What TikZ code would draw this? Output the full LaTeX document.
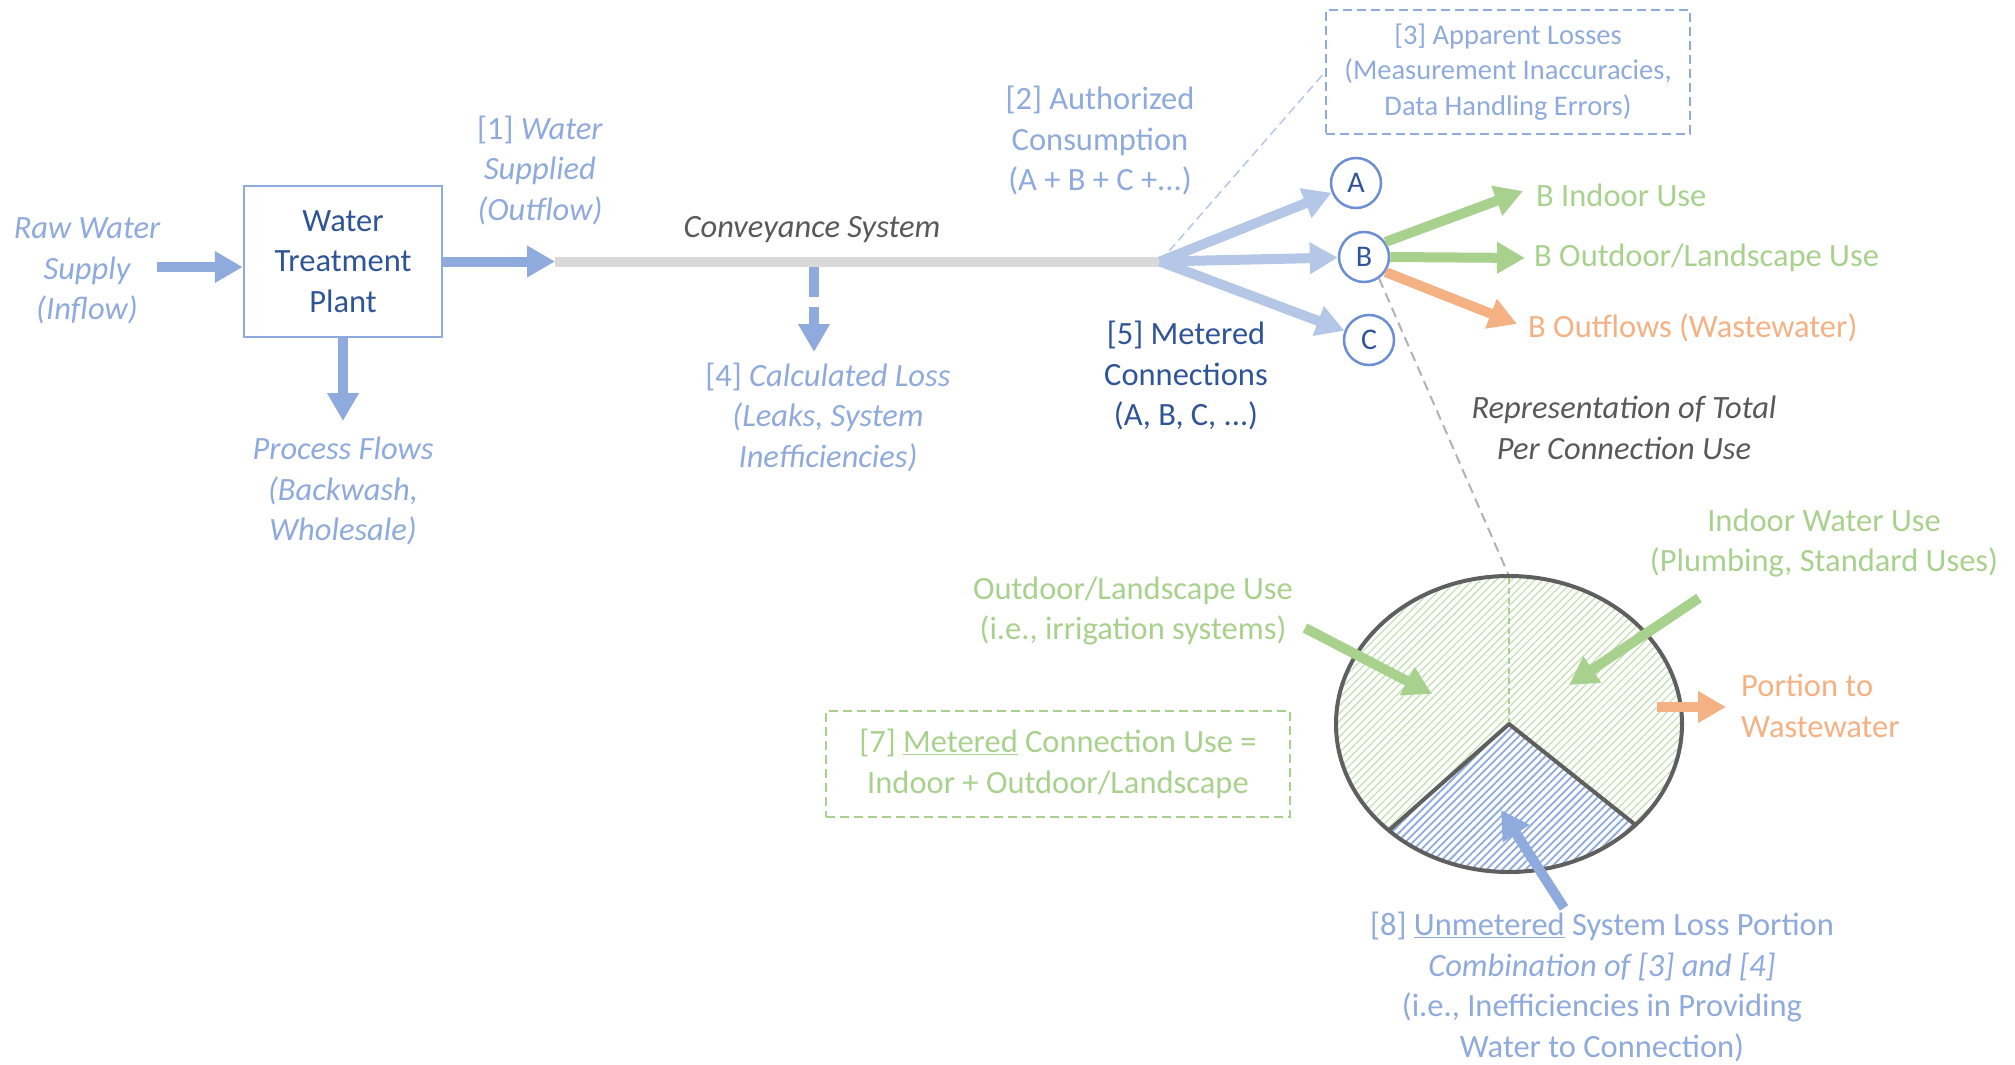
\documentclass[tikz,border=0pt]{standalone}
\usepackage{fontspec}
\setmainfont{Carlito}
\usetikzlibrary{arrows.meta,patterns.meta}
\definecolor{lblue}{HTML}{8FAADC}
\definecolor{dblue}{HTML}{2F5597}
\definecolor{fblue}{HTML}{B4C7E7}
\definecolor{cblue}{HTML}{6C8FD3}
\definecolor{lgreen}{HTML}{A9D18E}
\definecolor{hgreen}{HTML}{C5E0B4}
\definecolor{lorange}{HTML}{F4B183}
\definecolor{gtext}{HTML}{595959}
\definecolor{gline}{HTML}{D9D9D9}
\definecolor{dgray}{HTML}{5F5F5F}
\newcommand{\myul}[1]{\underline{#1}}
\tikzset{
  txt/.style={font=\fontsize{32.5}{40.5}\selectfont, align=center, inner sep=0pt},
  itxt/.style={font=\fontsize{32.5}{40.5}\selectfont\itshape, align=center, inner sep=0pt},
  smalltxt/.style={font=\fontsize{28.5}{35.5}\selectfont, align=center, inner sep=0pt},
  flow/.style={line width=10pt, -{Triangle[width=30pt,length=28pt]}},
  circ/.style={circle, draw=cblue, line width=2.5pt, minimum size=50pt, inner sep=0pt,
    text=dblue, font=\fontsize{30}{36}\selectfont},
  boxdash/.style={line width=2pt, dash pattern=on 9pt off 5pt},
  hatchgreen/.style={pattern={Lines[angle=45,distance=5.5pt,line width=1.3pt]}, pattern color=hgreen},
  hatchblue/.style={pattern={Lines[angle=45,distance=5.5pt,line width=1.8pt]}, pattern color=lblue},
}
\begin{document}
\begin{tikzpicture}[x=1pt,y=-1pt]
\useasboundingbox (0,0) rectangle (2015,1065);

% left part
\node[itxt, text=lblue] (raw) at (87,271) {Raw Water\\Supply\\(Inflow)};
\node[txt, text=dblue, draw=lblue, line width=2.5pt, minimum width=198pt, minimum height=151pt] (wtp) at (343,261.5) {Water\\Treatment\\Plant};
\coordinate (rawA) at (157,267);
\draw[flow, lblue] (rawA) -- (rawA -| wtp.west);

\coordinate (c0) at (555,261.5);
\coordinate (fork) at (1160,261.5);
\draw[gline, line width=10pt] (c0) -- (fork);
\draw[flow, lblue] (wtp.east) -- (c0);
\node[txt, text=lblue] (ws) at (540,170) {[1] \textit{Water}\\\textit{Supplied}\\\textit{(Outflow)}};
\node[itxt, text=gtext] (conv) at (812,230) {Conveyance System};

\coordinate (pend) at (343,421);
\draw[flow, lblue] (wtp.south) -- (pend);
\node[itxt, text=lblue] (proc) at (343,491) {Process Flows\\(Backwash,\\Wholesale)};

\coordinate (l0) at (814,266.5);
\coordinate (l1) at (814,352);
\draw[flow, lblue, dash pattern=on 30pt off 10pt] (l0) -- (l1);
\node[txt, text=lblue] (loss) at (828,417) {[4] \textit{Calculated Loss}\\\textit{(Leaks, System}\\\textit{Inefficiencies)}};

\node[txt, text=lblue] (auth) at (1100,141) {[2] Authorized\\Consumption\\(A + B + C +...)};
\node[txt, text=dblue] (met) at (1186,376) {[5] Metered\\Connections\\(A, B, C, ...)};

% apparent losses box
\node[smalltxt, text=lblue, draw=lblue, boxdash, minimum width=364pt, minimum height=124pt] (box3) at (1508,72) {[3] Apparent Losses\\(Measurement Inaccuracies,\\Data Handling Errors)};
\draw[fblue, line width=1.5pt, dash pattern=on 9pt off 5pt] (fork) -- (box3.west);

% connections
\node[circ] (A) at (1356,183) {A};
\node[circ] (B) at (1364,257) {B};
\node[circ] (C) at (1369,340) {C};
\draw[flow, fblue] (fork) -- (A);
\draw[flow, fblue] (fork) -- (B);
\draw[flow, fblue] (fork) -- (C);

\node[txt, text=lgreen, anchor=west] (bin) at (1536,195) {B Indoor Use};
\node[txt, text=lgreen, anchor=west] (bout) at (1534,258) {B Outdoor/Landscape Use};
\node[txt, text=lorange, anchor=west] (bww) at (1528,328) {B Outflows (Wastewater)};
\draw[flow, lgreen] (B.35) -- ([xshift=-13pt,yshift=4pt]bin.west);
\draw[flow, lgreen] (B.east) -- ([xshift=-9pt]bout.west);
\draw[flow, lorange] (B.-35) -- ([xshift=-11pt,yshift=4pt]bww.west);

\node[itxt, text=gtext] (rep) at (1624,428) {Representation of Total\\Per Connection Use};

% pie
\coordinate (pc) at (1509,724);
\coordinate (pietop) at (1509,576);
\draw[gray!60, line width=2pt, dash pattern=on 10pt off 6pt] (B.-55) -- (pietop);
\fill[hatchgreen] (pc) ellipse [x radius=173, y radius=148];
\fill[white] (pc) -- ++(43:173 and 148) arc[start angle=43, end angle=134, x radius=173, y radius=148] -- cycle;
\fill[hatchblue] (pc) -- ++(43:173 and 148) arc[start angle=43, end angle=134, x radius=173, y radius=148] -- cycle;
\draw[lgreen, line width=2pt, dash pattern=on 6pt off 4pt] (pc) -- (pietop);
\draw[dgray, line width=4pt] (pc) ellipse [x radius=173, y radius=148];
\draw[dgray, line width=4pt, line join=round] (pc) ++(134:173 and 148) -- (pc) -- ++(43:173 and 148);

\node[txt, text=lgreen] (odtext) at (1133,611) {Outdoor/Landscape Use\\(i.e., irrigation systems)};
\node[txt, text=lgreen] (intext) at (1824,543) {Indoor Water Use\\(Plumbing, Standard Uses)};
\node[txt, text=lorange, anchor=west, align=left] (portion) at (1741,706) {Portion to\\Wastewater};

\coordinate (oa0) at (1305,628);
\coordinate (oa1) at (1432,694);
\draw[flow, lgreen] (oa0) -- (oa1);
\coordinate (ia0) at (1699,598);
\coordinate (ia1) at (1569,685);
\draw[flow, lgreen] (ia0) -- (ia1);
\coordinate (pa0) at (1657,707);
\coordinate (pa1) at (1726,707);
\draw[flow, lorange] (pa0) -- (pa1);
\coordinate (ba0) at (1564,908);
\coordinate (ba1) at (1501,810);
\draw[flow, lblue] (ba0) -- (ba1);

\node[txt, text=lgreen, draw=lgreen, boxdash, minimum width=464pt, minimum height=106pt] (box7) at (1058,764) {[7] \myul{Metered} Connection Use =\\Indoor + Outdoor/Landscape};

\node[txt, text=lblue] (t8) at (1602,987) {[8] \myul{Unmetered} System Loss Portion\\\textit{Combination of [3] and [4]}\\(i.e., Inefficiencies in Providing\\Water to Connection)};
\end{tikzpicture}
\end{document}
